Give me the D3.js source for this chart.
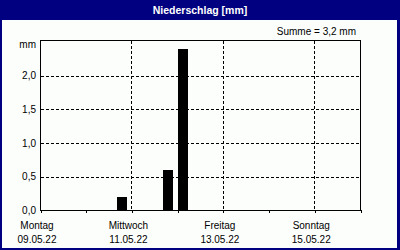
<!DOCTYPE html>
<html>
<head>
<meta charset="utf-8">
<script src="https://cdn.jsdelivr.net/npm/d3@7"></script>
<style>
  html, body { margin: 0; padding: 0; background: #fff; }
  svg { display: block; }
  text { font-family: "Liberation Sans", Arial, sans-serif; }
</style>
</head>
<body>
<script>
// ---- data ----
const title = "Niederschlag [mm]";
const sumLabel = "Summe = 3,2 mm";
const unitLabel = "mm";
const barTimes = ["2022-05-10T18:48", "2022-05-11T18:56", "2022-05-12T02:48"];
const barValues = [0.2, 0.6, 2.4];
const dayTicks = ["2022-05-09", "2022-05-10", "2022-05-11", "2022-05-12", "2022-05-13", "2022-05-14", "2022-05-15", "2022-05-16"];
const labelDays = ["2022-05-09", "2022-05-11", "2022-05-13", "2022-05-15"];
const labelNames = ["Montag", "Mittwoch", "Freitag", "Sonntag"];
const labelDates = ["09.05.22", "11.05.22", "13.05.22", "15.05.22"];
const yTicks = [0, 0.5, 1.0, 1.5, 2.0];
const yMax = 2.52;

const W = 400, H = 250;
const parse = d3.timeParse("%Y-%m-%dT%H:%M");
const parseDay = d3.timeParse("%Y-%m-%d");

const svg = d3.select("body").append("svg").attr("width", W).attr("height", H);

// background & frame
svg.append("rect").attr("x", 0).attr("y", 0).attr("width", W).attr("height", H).attr("fill", "#000080");
svg.append("rect").attr("x", 2).attr("y", 20).attr("width", W - 5).attr("height", H - 22).attr("fill", "#fcfefc");

svg.append("text").attr("x", 200).attr("y", 13.5).attr("text-anchor", "middle")
  .attr("fill", "#fff").attr("font-weight", "bold").attr("font-size", "10.5px").text(title);

svg.append("text").attr("x", 356).attr("y", 34.5).attr("text-anchor", "end")
  .attr("fill", "#000").attr("font-size", "10px").text(sumLabel);

const x = d3.scaleTime()
  .domain([parseDay(dayTicks[0]), parseDay(dayTicks[dayTicks.length - 1])])
  .range([40.5, 360.5]);
const y = d3.scaleLinear().domain([0, yMax]).range([210.5, 40.5]);

const g = svg.append("g").attr("shape-rendering", "crispEdges");

// horizontal gridlines
g.selectAll("line.hg").data(yTicks.filter(v => v > 0)).join("line")
  .attr("x1", 40.5).attr("x2", 360.5)
  .attr("y1", d => Math.round(y(d)) + 0.5).attr("y2", d => Math.round(y(d)) + 0.5)
  .attr("stroke", "#000").attr("stroke-dasharray", "3,2");

// vertical gridlines at labelled days (except first)
g.selectAll("line.vg").data(labelDays.slice(1)).join("line")
  .attr("x1", d => Math.round(x(parseDay(d)) - 0.5) + 0.5)
  .attr("x2", d => Math.round(x(parseDay(d)) - 0.5) + 0.5)
  .attr("y1", 40.5).attr("y2", 210.5)
  .attr("stroke", "#000").attr("stroke-dasharray", "3,2");

// bars
const barW = 10;
g.selectAll("rect.bar").data(barValues).join("rect")
  .attr("x", (d, i) => Math.round(x(parse(barTimes[i])) - barW / 2))
  .attr("width", barW)
  .attr("y", d => Math.round(y(d)))
  .attr("height", d => Math.round(y(0)) - Math.round(y(d)))
  .attr("fill", "#000");

// plot frame
g.append("rect").attr("x", 40.5).attr("y", 40.5).attr("width", 320).attr("height", 170)
  .attr("fill", "none").attr("stroke", "#000");

// x axis ticks
const xAxis = d3.axisBottom(x)
  .tickValues(dayTicks.map(parseDay))
  .tickSize(3).tickFormat("");
const xa = svg.append("g").attr("transform", "translate(0,210)").call(xAxis);
xa.select(".domain").remove();
xa.selectAll(".tick line").attr("shape-rendering", "crispEdges").attr("stroke", "#000");

// x labels
const xl = svg.append("g");
labelDays.forEach((d, i) => {
  const px = x(parseDay(d)) - 3.5;
  xl.append("text").attr("x", px).attr("y", 228.5).attr("text-anchor", "middle")
    .attr("font-size", "10px").attr("fill", "#000").text(labelNames[i]);
  xl.append("text").attr("x", px).attr("y", 242.5).attr("text-anchor", "middle")
    .attr("font-size", "10px").attr("fill", "#000").text(labelDates[i]);
});

// y axis labels
const yAxis = d3.axisLeft(y).tickValues(yTicks).tickSize(0).tickPadding(4)
  .tickFormat(d => d3.format(".1f")(d).replace(".", ","));
const ya = svg.append("g").attr("transform", "translate(40,0)").call(yAxis);
ya.select(".domain").remove();
ya.selectAll("text").attr("font-size", "10px").attr("font-family", "Liberation Sans, Arial, sans-serif")
  .attr("fill", "#000");

svg.append("text").attr("x", 36).attr("y", 47.5).attr("text-anchor", "end")
  .attr("font-size", "10px").attr("fill", "#000").text(unitLabel);
</script>
</body>
</html>
